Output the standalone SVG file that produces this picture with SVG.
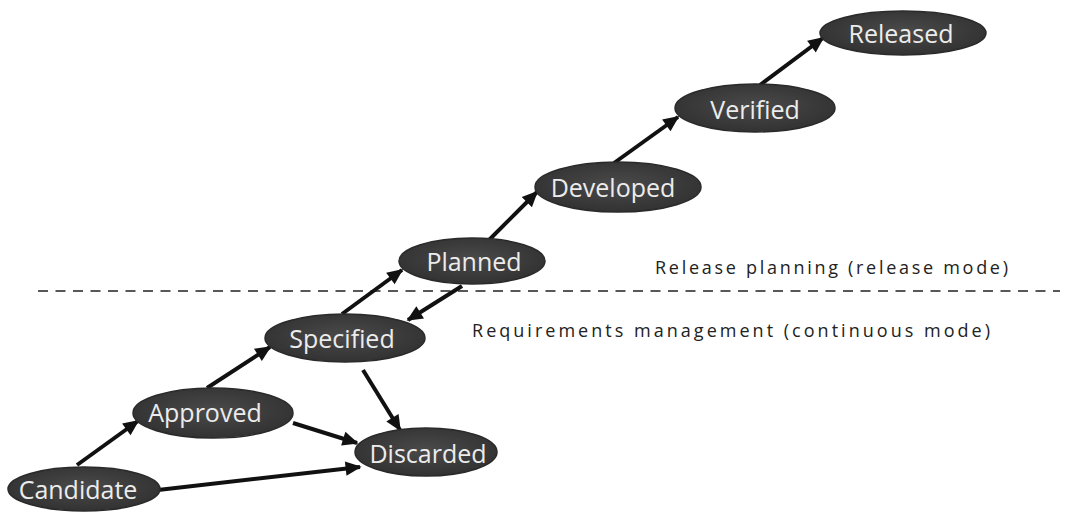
<svg xmlns="http://www.w3.org/2000/svg" width="1066" height="512" viewBox="0 0 1066 512">
<style>
.node ellipse{fill:url(#g);stroke:#2a2a2a;stroke-width:1.5}
.node text{font-family:"Open Sans","Noto Sans",sans-serif;font-size:25px;fill:#ececec;text-anchor:middle;dominant-baseline:central}
.edge{stroke:#111;stroke-width:4;fill:none;marker-end:url(#ah)}
.lbl{font-family:"Open Sans","Noto Sans",sans-serif;font-size:18px;fill:#222}
</style>
<defs>
<radialGradient id="g" cx="50%" cy="45%" r="60%">
<stop offset="0" stop-color="#4a4a4a"/>
<stop offset="1" stop-color="#303030"/>
</radialGradient>
<marker id="ah" viewBox="0 0 10 10" refX="9" refY="5" markerWidth="4.2" markerHeight="4" orient="auto" markerUnits="strokeWidth">
<path d="M0,0.5 L10,5 L0,9.5 z" fill="#111"/>
</marker>
</defs>
<line x1="38" y1="291" x2="1060" y2="291" stroke="#222" stroke-width="1.5" stroke-dasharray="10 7.5"/>
<text class="lbl" x="655" y="274" textLength="353" lengthAdjust="spacing">Release planning (release mode)</text>
<text class="lbl" x="472" y="337" textLength="518" lengthAdjust="spacing">Requirements management (continuous mode)</text>
<g id="connectors">
<line class="edge" x1="77" y1="465" x2="138" y2="421"/>
<line class="edge" x1="158" y1="490" x2="360" y2="467"/>
<line class="edge" x1="207" y1="388" x2="270" y2="347"/>
<line class="edge" x1="293" y1="423" x2="357" y2="443"/>
<line class="edge" x1="363" y1="370" x2="400" y2="430"/>
<line class="edge" x1="342" y1="314" x2="402" y2="270"/>
<line class="edge" x1="462" y1="286" x2="408" y2="320"/>
<line class="edge" x1="487" y1="242" x2="537" y2="192"/>
<line class="edge" x1="614" y1="163" x2="678" y2="117"/>
<line class="edge" x1="760" y1="85" x2="823" y2="38"/>
</g>
<g id="candidate" class="node"><ellipse cx="84" cy="489" rx="76" ry="22"/><text x="78" y="489">Candidate</text></g>
<g id="approved" class="node"><ellipse cx="213" cy="413" rx="80" ry="25"/><text x="205" y="412">Approved</text></g>
<g id="discarded" class="node"><ellipse cx="426" cy="452" rx="71" ry="24"/><text x="428" y="453">Discarded</text></g>
<g id="specified" class="node"><ellipse cx="345" cy="338" rx="80" ry="24"/><text x="342" y="338">Specified</text></g>
<g id="planned" class="node"><ellipse cx="472" cy="261" rx="73" ry="23"/><text x="474" y="261">Planned</text></g>
<g id="developed" class="node"><ellipse cx="618" cy="187" rx="83" ry="25"/><text x="613" y="187">Developed</text></g>
<g id="verified" class="node"><ellipse cx="755" cy="108" rx="80" ry="24"/><text x="755" y="109">Verified</text></g>
<g id="released" class="node"><ellipse cx="903" cy="33" rx="83" ry="22"/><text x="901" y="33">Released</text></g>
</svg>
